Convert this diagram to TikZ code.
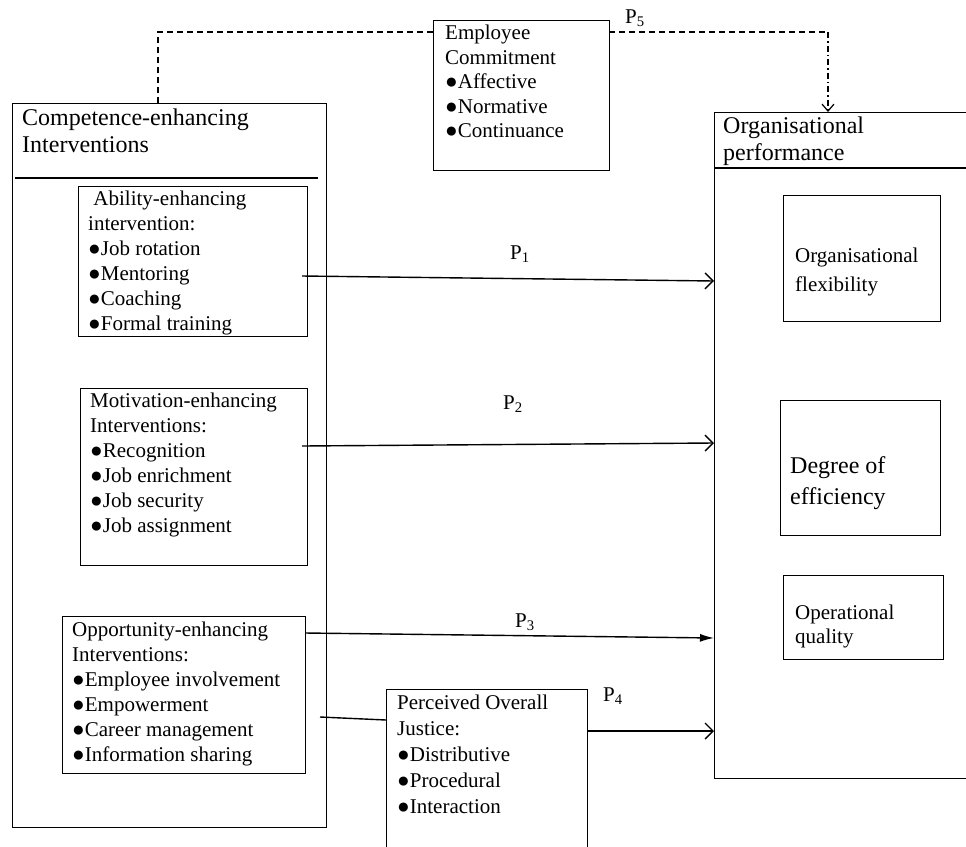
\documentclass[tikz,border=0pt]{standalone}
\usepackage{fontspec}
\setmainfont{Liberation Serif}
\usetikzlibrary{positioning, arrows.meta}

\tikzset{
  box/.style={draw, line width=0.9pt, anchor=north west, inner sep=0pt, outer sep=0pt},
  txt/.style={align=left, inner sep=0pt, font=\fontsize{21}{25}\selectfont},
  head/.style={align=left, inner sep=0pt, font=\fontsize{24}{26.5}\selectfont},
  rule/.style={line width=2.2pt},
  open/.style={line width=1.4pt, -{Straight Barb[length=8pt,width=16pt]}},
  closed/.style={line width=1.4pt, -{Latex[length=14pt,width=8pt]}},
  dashline/.style={line width=1.4pt, dash pattern=on 6pt off 4pt},
  dotline/.style={line width=1.2pt, dash pattern=on 6pt off 3pt on 1.5pt off 3pt}
}

\begin{document}
\begin{tikzpicture}[x=1pt, y=-1pt]
        \useasboundingbox (0,0) rectangle (966,846);

        % left block
        \node [box, minimum width=314pt, minimum height=724pt] (CE) at (12,103) {};
        \node [head, below right=6pt and 10pt of CE.north west] (CEt) {Competence-enhancing\\Interventions};
        \coordinate [below right=75pt and 3pt of CE.north west] (CEl);
        \coordinate [below left=75pt and 8pt of CE.north east] (CEr);
        \draw [rule] (CEl) -- (CEr);

        \node [box, minimum width=229pt, minimum height=150pt] (AB) at (78,186) {};
        \node [txt, below right=5pt and 10pt of AB.north west] (ABt) {\ Ability-enhancing\\intervention:\\●Job rotation\\●Mentoring\\●Coaching\\●Formal training};

        \node [box, minimum width=227pt, minimum height=177pt] (MO) at (80,388) {};
        \node [txt, below right=5pt and 10pt of MO.north west] (MOt) {Motivation-enhancing\\Interventions:\\●Recognition\\●Job enrichment\\●Job security\\●Job assignment};

        \node [box, minimum width=243pt, minimum height=157pt] (OP) at (62,616) {};
        \node [txt, below right=6pt and 10pt of OP.north west] (OPt) {Opportunity-enhancing\\Interventions:\\●Employee involvement\\●Empowerment\\●Career management\\●Information sharing};

        % mediators
        \node [box, minimum width=201pt, minimum height=171pt] (JU) at (386,689) {};
        \node [txt, font=\fontsize{21}{26}\selectfont, below right=6pt and 11pt of JU.north west] (JUt) {Perceived Overall\\Justice:\\●Distributive\\●Procedural\\●Interaction};

        \node [box, minimum width=176pt, minimum height=150pt] (EC) at (433,20) {};
        \node [txt, font=\fontsize{21}{24.5}\selectfont, below right=5pt and 12pt of EC.north west] (ECt) {Employee\\Commitment\\●Affective\\●Normative\\●Continuance};

        % right block
        \node [box, minimum width=261pt, minimum height=666pt] (OR) at (714,112) {};
        \node [head, below right=5pt and 9pt of OR.north west] (ORt) {Organisational\\performance};
        \coordinate [below=56pt of OR.north west] (ORl);
        \coordinate [below=56pt of OR.north east] (ORr);
        \draw [rule] (ORl) -- (ORr);

        \node [box, minimum width=157pt, minimum height=126pt] (FL) at (783,195) {};
        \node [txt, font=\fontsize{21}{29}\selectfont, below right=53pt and 12pt of FL.north west] (FLt) {Organisational\\flexibility};

        \node [box, minimum width=160pt, minimum height=135pt] (EF) at (780,400) {};
        \node [head, font=\fontsize{24}{31}\selectfont, below right=56pt and 10pt of EF.north west] (EFt) {Degree of\\efficiency};

        \node [box, minimum width=160pt, minimum height=84pt] (OQ) at (783,575) {};
        \node [txt, font=\fontsize{21}{24}\selectfont, below right=30pt and 12pt of OQ.north west] (OQt) {Operational\\quality};

        % paths
        \draw [open] ([xshift=-5pt, yshift=-15pt]AB.east) -- ([yshift=164pt]OR.west);
        \draw [open] ([xshift=-5pt, yshift=30.5pt]MO.east) -- ([yshift=2pt]OR.west);
        \draw [closed] ([yshift=61.5pt]OP.east) -- ([yshift=-193pt]OR.west);
        \draw [line width=1.4pt] ([xshift=15pt, yshift=-22.5pt]OP.east) -- ([yshift=54.5pt]JU.west);
        \draw [open] ([yshift=43.5pt]JU.east) -- ([yshift=-286pt]OR.west);

        \coordinate (P5bend) at (828,32);
        \draw [dashline] ([xshift=-11pt]CE.north) |- ([yshift=63pt]EC.west);
        \draw [dashline] ([yshift=63pt]EC.east) -- (P5bend);
        \draw [dotline, -{Straight Barb[length=7pt,width=12pt]}] (P5bend) -- (P5bend |- OR.north);

        \node [txt] (lP1) at (520,254) {P\textsubscript{1}};
        \node [txt] (lP2) at (513,404) {P\textsubscript{2}};
        \node [txt] (lP3) at (525,622) {P\textsubscript{3}};
        \node [txt] (lP4) at (613,696) {P\textsubscript{4}};
        \node [txt] (lP5) at (635,18) {P\textsubscript{5}};
\end{tikzpicture}
\end{document}
